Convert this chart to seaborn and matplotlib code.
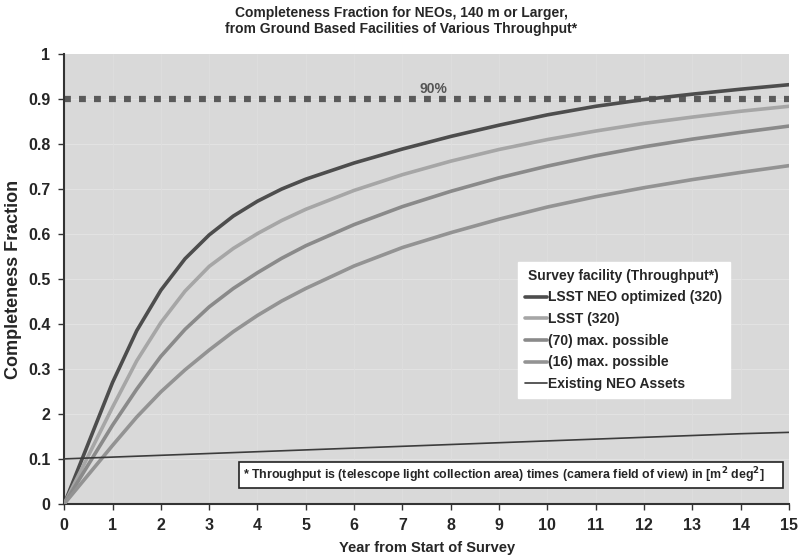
import numpy as np
import pandas as pd
import matplotlib
matplotlib.use("Agg")
import matplotlib.pyplot as plt
import seaborn as sns
from matplotlib.patches import Rectangle

# values
years = [0, 1, 1.5, 2, 2.5, 3, 3.5, 4, 4.5, 5, 6, 7, 8, 9, 10, 11, 12, 13, 14, 15]
lsst_neo_opt = [0, 0.27, 0.385, 0.475, 0.545, 0.598, 0.64, 0.673, 0.70, 0.722, 0.758,
                0.789, 0.817, 0.842, 0.865, 0.884, 0.899, 0.911, 0.922, 0.932]
lsst_320 = [0, 0.215, 0.318, 0.403, 0.473, 0.528, 0.568, 0.601, 0.63, 0.655, 0.697,
            0.732, 0.762, 0.788, 0.81, 0.829, 0.846, 0.86, 0.873, 0.884]
max_70 = [0, 0.175, 0.255, 0.328, 0.388, 0.438, 0.479, 0.514, 0.546, 0.574, 0.621,
          0.661, 0.695, 0.725, 0.751, 0.774, 0.794, 0.811, 0.826, 0.84]
max_16 = [0, 0.13, 0.193, 0.249, 0.298, 0.342, 0.383, 0.419, 0.451, 0.479, 0.529,
          0.57, 0.603, 0.633, 0.66, 0.683, 0.703, 0.721, 0.737, 0.752]
existing = [0.100, 0.104, 0.106, 0.108, 0.110, 0.112, 0.114, 0.116, 0.118, 0.120, 0.124,
            0.128, 0.132, 0.136, 0.140, 0.144, 0.148, 0.152, 0.156, 0.159]

labels = ["LSST NEO optimized (320)", "LSST (320)", "(70) max. possible",
          "(16) max. possible", "Existing NEO Assets"]
colors = ["#4d4d4d", "#a6a6a6", "#8a8a8a", "#939393", "#3c3c3c"]
widths = [2.6, 2.6, 2.6, 2.6, 1.2]

ytick_vals = [0, 0.1, 0.2, 0.3, 0.4, 0.5, 0.6, 0.7, 0.8, 0.9, 1]
ytick_labels = ["0", "0.1", "2", "0.3", "0.4", "0.5", "0.6", "0.7", "0.8", "0.9", "1"]
xtick_vals = list(range(0, 16))

goal = 0.9

df = pd.DataFrame({"Year": years * 5,
                   "Fraction": lsst_neo_opt + lsst_320 + max_70 + max_16 + existing,
                   "Facility": sum([[l] * len(years) for l in labels], [])})

sns.set_style("ticks")
plt.rcParams['font.family'] = ['Liberation Sans', 'DejaVu Sans']
plt.rcParams['font.weight'] = 'bold'
plt.rcParams['lines.solid_joinstyle'] = 'round'

fig = plt.figure(figsize=(8.03, 5.58), dpi=100)
ax = fig.add_axes([0.080, 0.097, 0.9025, 0.806])
ax.set_facecolor("#d9d9d9")

for y in ytick_vals[1:-1]:
    ax.axhline(y, color="#e2e2e2", lw=0.8, zorder=0)
for x in xtick_vals[1:]:
    ax.axvline(x, color="#dedede", lw=0.6, zorder=0)

# 90% goal line
ax.axhline(goal, color="#5a5a5a", lw=4.5, ls=(0, (1.1, 1.3)), zorder=2)
ax.text(7.65, goal + 0.008, "90%", color="#555555", fontsize=10, fontweight="bold",
        ha="center", va="bottom")

for lab, c, w in zip(labels, colors, widths):
    sns.lineplot(data=df[df["Facility"] == lab], x="Year", y="Fraction", color=c,
                 lw=w, ax=ax, label=lab, legend=False, zorder=3)

ax.set_xlim(0, 15)
ax.set_ylim(0, 1)
ax.set_xticks(xtick_vals)
ax.set_yticks(ytick_vals)
ax.set_yticklabels(ytick_labels)
ax.tick_params(labelsize=11.5, length=4, width=1, color="#333333", pad=6)
for lbl in ax.get_xticklabels() + ax.get_yticklabels():
    lbl.set_fontweight("bold")
for s in ["top", "right"]:
    ax.spines[s].set_visible(False)
for s in ["left", "bottom"]:
    ax.spines[s].set_color("#333333")
    ax.spines[s].set_linewidth(1.5)

ax.set_xlabel("Year from Start of Survey", fontsize=10.5, fontweight="bold", labelpad=6)
ax.set_ylabel("Completeness Fraction", fontsize=13, fontweight="bold", labelpad=4)
fig.suptitle("Completeness Fraction for NEOs, 140 m or Larger,\n"
             "from Ground Based Facilities of Various Throughput*",
             fontsize=10, fontweight="bold", y=0.99)

handles, _ = ax.get_legend_handles_labels()
leg = ax.legend(handles, labels, title="Survey facility (Throughput*)",
                loc="upper left", bbox_to_anchor=(0.626, 0.538), frameon=True,
                fancybox=False, framealpha=1, edgecolor="white", facecolor="white",
                fontsize=10, title_fontsize=10, handlelength=1.6, handletextpad=0.1,
                labelspacing=0.55, borderpad=0.5, borderaxespad=0)
leg.get_title().set_fontweight("bold")
for t in leg.get_texts():
    t.set_fontweight("bold")

# footnote box
ax.add_patch(Rectangle((0.241, 0.036), 0.751, 0.056, transform=ax.transAxes,
                       facecolor="white", edgecolor="#222222", lw=1.2, zorder=5))
ax.text(0.246, 0.064, "* Throughput is (telescope light collection area) times "
        "(camera field of view) in [m$^\\mathbf{2}$ deg$^\\mathbf{2}$]",
        transform=ax.transAxes, fontsize=8.9, fontweight="bold", va="center",
        ha="left", zorder=6)

fig.savefig("out.png", dpi=100, facecolor="white")
